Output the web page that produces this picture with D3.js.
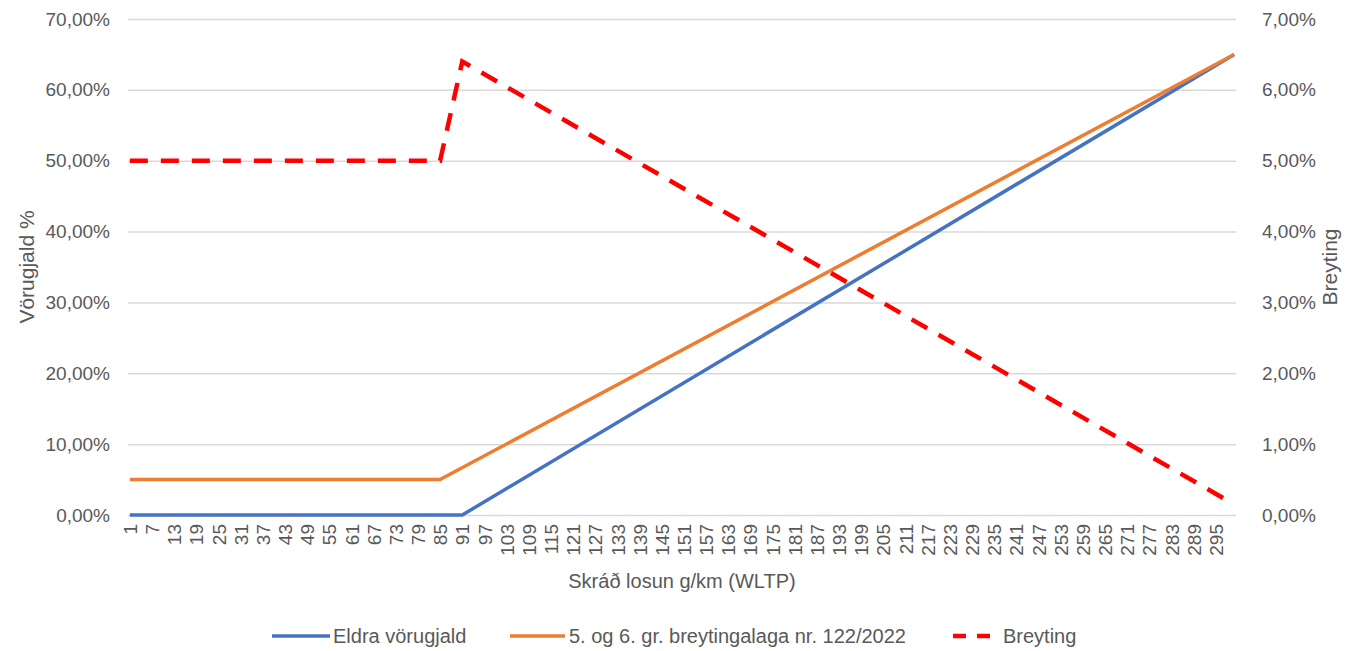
<!DOCTYPE html>
<html>
<head>
<meta charset="utf-8">
<script src="https://cdn.jsdelivr.net/npm/d3@7"></script>
<style>
  body { margin: 0; background: #fff; }
  svg text { font-family: "Liberation Sans", Arial, sans-serif; fill: #595959; }
</style>
</head>
<body>
<svg id="chart" width="1349" height="651"></svg>
<script>
// categories: skráð losun g/km
var categories = d3.range(1, 301);
var tickLabels = categories.filter(function (d, i) { return i % 6 === 0; });
var leftTicks = [0, 10, 20, 30, 40, 50, 60, 70];
var rightTicks = [0, 1, 2, 3, 4, 5, 6, 7];

// series at their break points (%)
var eldraX = [1, 91, 300];
var eldraY = [0, 0, 65];
var nyX = [1, 85, 300];
var nyY = [5, 5, 65];
var breytX = [1, 85, 91, 300];
var breytY = [5, 5, 6.4, 0.15];

var names = ["Eldra vörugjald", "5. og 6. gr. breytingalaga nr. 122/2022", "Breyting"];
var colors = ["#4472C4", "#ED7D31", "#FF0000"];

(function (d3) {
  var pLeft = 128, pRight = 1236, pTop = 19, pBottom = 515;

  var svg = d3.select("#chart");
  var loc = d3.formatLocale({ decimal: ",", thousands: ".", grouping: [3], currency: ["", ""] });
  var fmt = function (d) { return loc.format(".2f")(d) + "%"; };

  var x = d3.scalePoint().domain(categories).range([pLeft, pRight]).padding(0.5);
  var y = d3.scaleLinear().domain([0, 70]).range([pBottom, pTop]);
  var y2 = d3.scaleLinear().domain([0, 7]).range([pBottom, pTop]);

  // left axis + gridlines
  var gl = svg.append("g")
    .attr("transform", "translate(" + pLeft + ",0)")
    .call(d3.axisLeft(y).tickValues(leftTicks).tickFormat(fmt).tickSize(-(pRight - pLeft)).tickPadding(18));
  gl.select(".domain").remove();
  gl.selectAll("line").attr("stroke", "#D9D9D9").attr("stroke-width", 1.5);
  gl.selectAll("text").style("font-size", "19px").attr("fill", "#595959");

  // right axis
  var gr = svg.append("g")
    .attr("transform", "translate(" + pRight + ",0)")
    .call(d3.axisRight(y2).tickValues(rightTicks).tickFormat(fmt).tickSize(0).tickPadding(26));
  gr.select(".domain").remove();
  gr.selectAll("text").style("font-size", "19px").attr("fill", "#595959");

  // bottom axis
  var gx = svg.append("g")
    .attr("transform", "translate(0," + pBottom + ")")
    .call(d3.axisBottom(x).tickValues(tickLabels).tickSize(0));
  gx.select(".domain").remove();
  gx.selectAll("text")
    .style("font-size", "19px")
    .attr("fill", "#595959")
    .attr("text-anchor", "end")
    .attr("transform", "rotate(-90)")
    .attr("x", -9)
    .attr("y", 0)
    .attr("dy", "0.35em");

  // axis titles
  svg.append("text")
    .attr("transform", "translate(34," + ((pTop + pBottom) / 2) + ") rotate(-90)")
    .attr("text-anchor", "middle")
    .style("font-size", "21px")
    .text("Vörugjald %");
  svg.append("text")
    .attr("transform", "translate(1337," + ((pTop + pBottom) / 2) + ") rotate(-90)")
    .attr("text-anchor", "middle")
    .style("font-size", "21px")
    .text("Breyting");
  svg.append("text")
    .attr("x", (pLeft + pRight) / 2)
    .attr("y", 588)
    .attr("text-anchor", "middle")
    .style("font-size", "20px")
    .text("Skráð losun g/km (WLTP)");

  // lines
  var line = d3.line().x(function (d) { return x(d[0]); });

  svg.append("path")
    .datum(d3.zip(eldraX, eldraY))
    .attr("fill", "none")
    .attr("stroke", colors[0])
    .attr("stroke-width", 3.5)
    .attr("stroke-linejoin", "round")
    .attr("d", line.y(function (d) { return y(d[1]); }));

  svg.append("path")
    .datum(d3.zip(nyX, nyY))
    .attr("fill", "none")
    .attr("stroke", colors[1])
    .attr("stroke-width", 3.5)
    .attr("stroke-linejoin", "round")
    .attr("d", line.y(function (d) { return y(d[1]); }));

  svg.append("path")
    .datum(d3.zip(breytX, breytY))
    .attr("fill", "none")
    .attr("stroke", colors[2])
    .attr("stroke-width", 4.5)
    .attr("stroke-dasharray", "18,13")
    .attr("d", line.y(function (d) { return y2(d[1]); }));

  // legend
  var legendItems = [
    { name: names[0], color: colors[0], x: 272, w: 58, tx: 333, dash: null },
    { name: names[1], color: colors[1], x: 510, w: 55, tx: 569, dash: null },
    { name: names[2], color: colors[2], x: 953, w: 38, tx: 1003, dash: "13,11" }
  ];
  var lg = svg.append("g").attr("transform", "translate(0,636)");
  legendItems.forEach(function (it) {
    lg.append("line")
      .attr("x1", it.x).attr("x2", it.x + it.w)
      .attr("y1", 0).attr("y2", 0)
      .attr("stroke", it.color)
      .attr("stroke-width", it.dash ? 4.5 : 3.5)
      .attr("stroke-dasharray", it.dash);
    lg.append("text")
      .attr("x", it.tx)
      .attr("y", 0)
      .attr("dy", "0.35em")
      .style("font-size", "20px")
      .text(it.name);
  });
})(window.d3);
</script>
</body>
</html>
